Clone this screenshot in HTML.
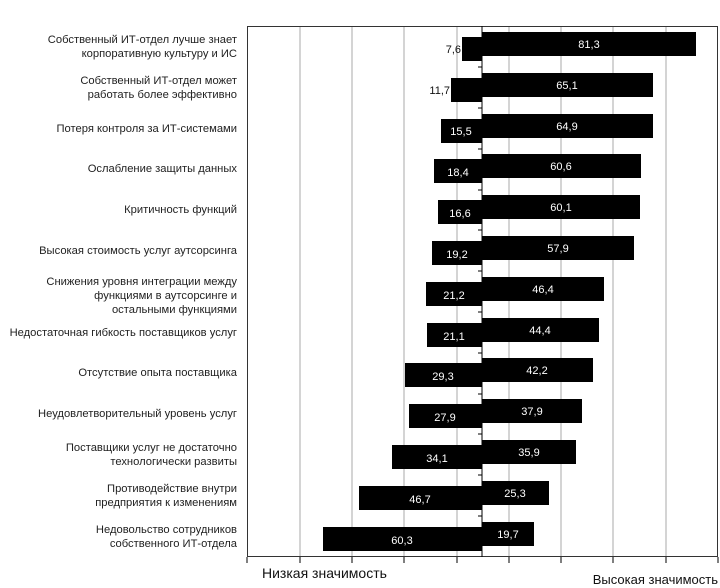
<!DOCTYPE html>
<html><head><meta charset="utf-8"><style>
html,body{margin:0;padding:0;background:#fff;}
svg{display:block;font-family:"Liberation Sans",sans-serif;}
.l{font-size:11.2px;fill:#222;text-anchor:end;}
.v{font-size:11px;fill:#fff;text-anchor:middle;}
.o{font-size:11px;fill:#111;text-anchor:end;}
</style></head><body>
<svg width="720" height="588" viewBox="0 0 720 588">
<g stroke="#aaa" stroke-width="1">
<line x1="300" y1="26" x2="300" y2="557"/><line x1="352" y1="26" x2="352" y2="557"/><line x1="404" y1="26" x2="404" y2="557"/><line x1="457" y1="26" x2="457" y2="557"/>
<line x1="509" y1="26" x2="509" y2="557"/><line x1="561" y1="26" x2="561" y2="557"/><line x1="613" y1="26" x2="613" y2="557"/><line x1="666" y1="26" x2="666" y2="557"/>
</g>
<rect x="247.5" y="26.5" width="470" height="530" fill="none" stroke="#333" stroke-width="1"/>
<g stroke="#000" stroke-width="1">
<line x1="300" y1="557" x2="300" y2="563"/><line x1="352" y1="557" x2="352" y2="563"/><line x1="404" y1="557" x2="404" y2="563"/><line x1="457" y1="557" x2="457" y2="563"/><line x1="509" y1="557" x2="509" y2="563"/><line x1="561" y1="557" x2="561" y2="563"/><line x1="613" y1="557" x2="613" y2="563"/><line x1="666" y1="557" x2="666" y2="563"/><line x1="247" y1="557" x2="247" y2="563"/><line x1="718" y1="557" x2="718" y2="563"/>
<line x1="482" y1="26" x2="482" y2="557"/>
<line x1="478" y1="67" x2="482" y2="67"/><line x1="478" y1="108" x2="482" y2="108"/><line x1="478" y1="149" x2="482" y2="149"/><line x1="478" y1="190" x2="482" y2="190"/><line x1="478" y1="230" x2="482" y2="230"/><line x1="478" y1="271" x2="482" y2="271"/><line x1="478" y1="312" x2="482" y2="312"/><line x1="478" y1="353" x2="482" y2="353"/><line x1="478" y1="394" x2="482" y2="394"/><line x1="478" y1="434" x2="482" y2="434"/><line x1="478" y1="475" x2="482" y2="475"/><line x1="478" y1="516" x2="482" y2="516"/>
</g>
<g fill="#000">
<rect x="482" y="32" width="214" height="24"/><rect x="462" y="37" width="20" height="24"/>
<rect x="482" y="73" width="171" height="24"/><rect x="451" y="78" width="31" height="24"/>
<rect x="482" y="114" width="171" height="24"/><rect x="441" y="119" width="41" height="24"/>
<rect x="482" y="154" width="159" height="24"/><rect x="434" y="159" width="48" height="24"/>
<rect x="482" y="195" width="158" height="24"/><rect x="438" y="200" width="44" height="24"/>
<rect x="482" y="236" width="152" height="24"/><rect x="432" y="241" width="50" height="24"/>
<rect x="482" y="277" width="122" height="24"/><rect x="426" y="282" width="56" height="24"/>
<rect x="482" y="318" width="117" height="24"/><rect x="427" y="323" width="55" height="24"/>
<rect x="482" y="358" width="111" height="24"/><rect x="405" y="363" width="77" height="24"/>
<rect x="482" y="399" width="100" height="24"/><rect x="409" y="404" width="73" height="24"/>
<rect x="482" y="440" width="94" height="24"/><rect x="392" y="445" width="90" height="24"/>
<rect x="482" y="481" width="67" height="24"/><rect x="359" y="486" width="123" height="24"/>
<rect x="482" y="522" width="52" height="24"/><rect x="323" y="527" width="159" height="24"/>
</g>
<g class="v">
<text x="589" y="48">81,3</text>
<text x="567" y="89">65,1</text><text x="567" y="130">64,9</text>
<text x="561" y="170">60,6</text><text x="561" y="211">60,1</text><text x="558" y="252">57,9</text>
<text x="543" y="293">46,4</text><text x="540" y="334">44,4</text><text x="537" y="374">42,2</text>
<text x="532" y="415">37,9</text><text x="529" y="456">35,9</text><text x="515" y="497">25,3</text><text x="508" y="538">19,7</text>
<text x="461" y="135">15,5</text><text x="458" y="176">18,4</text><text x="460" y="217">16,6</text><text x="457" y="258">19,2</text>
<text x="454" y="299">21,2</text><text x="454" y="340">21,1</text><text x="443" y="380">29,3</text><text x="445" y="421">27,9</text>
<text x="437" y="462">34,1</text><text x="420" y="503">46,7</text><text x="402" y="544">60,3</text>
</g>
<text class="o" x="461" y="53">7,6</text>
<text class="o" x="450" y="94">11,7</text>
<g class="l">
<text x="237" y="43">Собственный ИТ-отдел лучше знает</text><text x="237" y="57">корпоративную культуру и ИС</text>
<text x="237" y="84">Собственный ИТ-отдел может</text><text x="237" y="98">работать более эффективно</text>
<text x="237" y="132">Потеря контроля за ИТ-системами</text>
<text x="237" y="172">Ослабление защиты данных</text>
<text x="237" y="213">Критичность функций</text>
<text x="237" y="254">Высокая стоимость услуг аутсорсинга</text>
<text x="237" y="285">Снижения уровня интеграции между</text><text x="237" y="299">функциями в аутсорсинге и</text><text x="237" y="313">остальными функциями</text>
<text x="237" y="336">Недостаточная гибкость поставщиков услуг</text>
<text x="237" y="376">Отсутствие опыта поставщика</text>
<text x="237" y="417">Неудовлетворительный уровень услуг</text>
<text x="237" y="451">Поставщики услуг не достаточно</text><text x="237" y="465">технологически развиты</text>
<text x="237" y="492">Противодействие внутри</text><text x="237" y="506">предприятия к изменениям</text>
<text x="237" y="533">Недовольство сотрудников</text><text x="237" y="547">собственного ИТ-отдела</text>
</g>
<text x="262" y="578" font-size="14" fill="#111">Низкая значимость</text>
<text x="718" y="584" font-size="13" fill="#111" text-anchor="end">Высокая значимость</text>
</svg>
</body></html>
